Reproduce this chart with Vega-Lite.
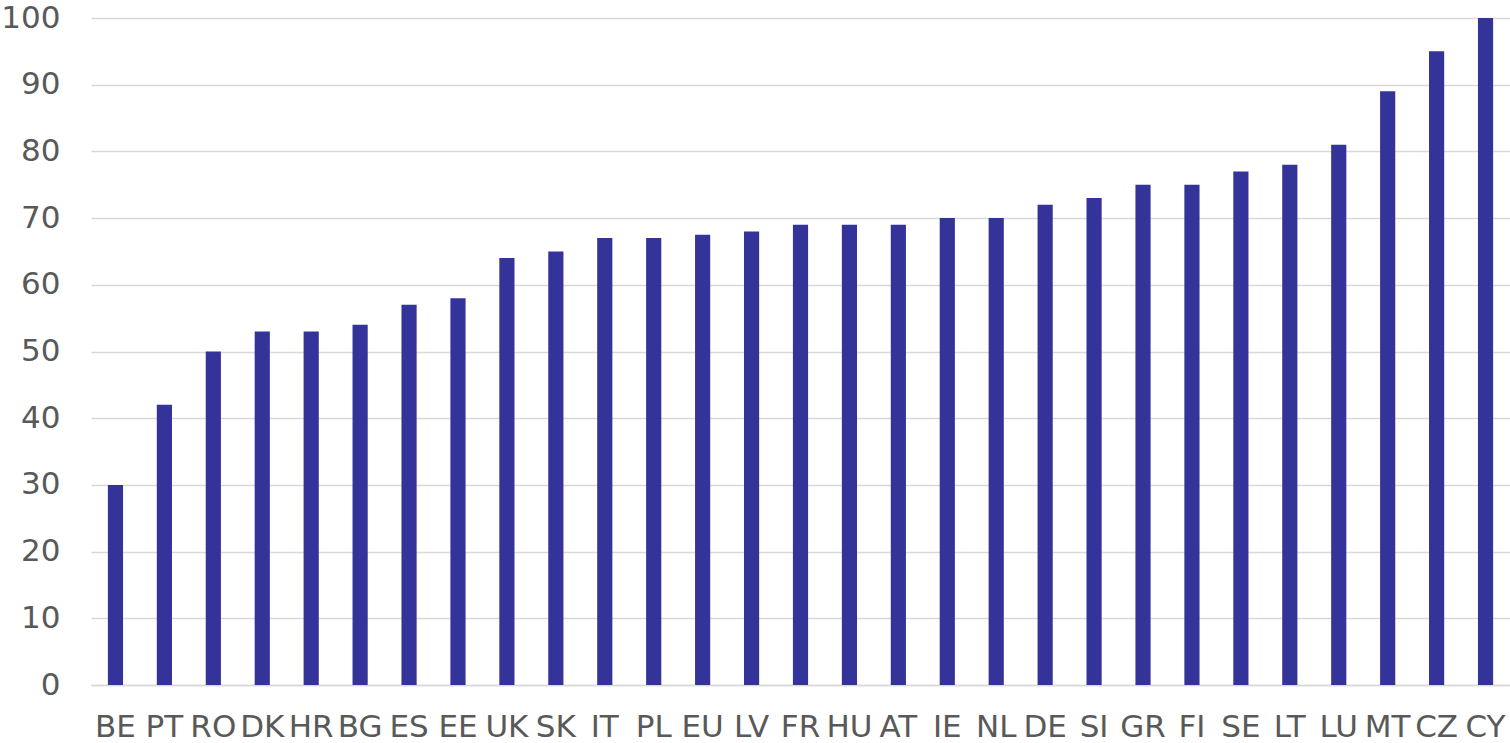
{
  "$schema": "https://vega.github.io/schema/vega-lite/v6.json",
  "width": 1419,
  "height": 667,
  "autosize": {"type": "none"},
  "padding": {"left": 91, "top": 18, "right": 0, "bottom": 58},
  "background": "white",
  "config": {"view": {"stroke": null}, "font": "DejaVu Sans"},
  "data": {"values": [
    {"c": "BE", "v": 30}, {"c": "PT", "v": 42}, {"c": "RO", "v": 50}, {"c": "DK", "v": 53},
    {"c": "HR", "v": 53}, {"c": "BG", "v": 54}, {"c": "ES", "v": 57}, {"c": "EE", "v": 58},
    {"c": "UK", "v": 64}, {"c": "SK", "v": 65}, {"c": "IT", "v": 67}, {"c": "PL", "v": 67},
    {"c": "EU", "v": 67.5}, {"c": "LV", "v": 68}, {"c": "FR", "v": 69}, {"c": "HU", "v": 69},
    {"c": "AT", "v": 69}, {"c": "IE", "v": 70}, {"c": "NL", "v": 70}, {"c": "DE", "v": 72},
    {"c": "SI", "v": 73}, {"c": "GR", "v": 75}, {"c": "FI", "v": 75}, {"c": "SE", "v": 77},
    {"c": "LT", "v": 78}, {"c": "LU", "v": 81}, {"c": "MT", "v": 89}, {"c": "CZ", "v": 95},
    {"c": "CY", "v": 100}
  ]},
  "mark": {"type": "bar", "color": "#333399"},
  "encoding": {
    "x": {
      "field": "c", "type": "nominal", "sort": null,
      "scale": {"paddingInner": 0.69, "paddingOuter": 0.345},
      "axis": {
        "title": null, "labelAngle": 0, "ticks": false, "domainColor": "#d9d9d9", "domainWidth": 1.5,
        "labelFontSize": 31, "labelColor": "#595959", "labelPadding": 27, "labelOverlap": false, "labelLimit": 0
      }
    },
    "y": {
      "field": "v", "type": "quantitative",
      "scale": {"domain": [0, 100], "nice": false},
      "axis": {
        "title": null, "values": [0,10,20,30,40,50,60,70,80,90,100], "ticks": false, "domain": false,
        "gridColor": "#d9d9d9", "gridWidth": 1.5,
        "labelFontSize": 31, "labelColor": "#595959", "labelPadding": 31
      }
    }
  }
}
